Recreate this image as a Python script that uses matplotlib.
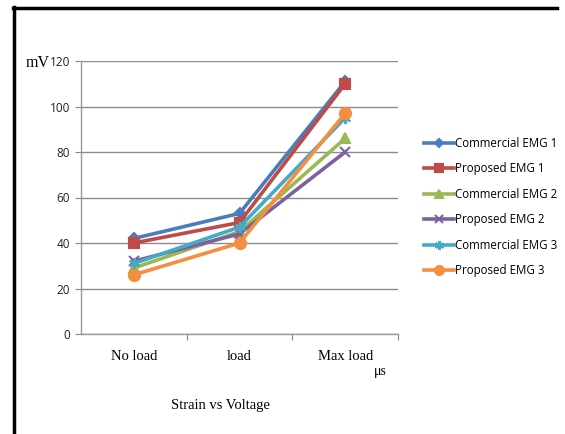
import matplotlib.pyplot as plt
from matplotlib.lines import Line2D

categories = ['No load', 'load', 'Max load']
series_names = ['Commercial EMG 1', 'Proposed EMG 1', 'Commercial EMG 2',
                'Proposed EMG 2', 'Commercial EMG 3', 'Proposed EMG 3']
commercial_1 = [42, 53, 111]
proposed_1 = [40, 49, 110]
commercial_2 = [29, 45, 86]
proposed_2 = [32, 44, 80]
commercial_3 = [31, 47, 95]
proposed_3 = [26, 40, 97]
y_ticks = [0, 20, 40, 60, 80, 100, 120]

series = [commercial_1, proposed_1, commercial_2, proposed_2, commercial_3, proposed_3]
colors = ['#4A7EBB', '#BE4B48', '#98B954', '#7D60A0', '#46AAC5', '#F38F3F']
markers = ['D', 's', '^', 'x', (6, 2, 0), 'o']
msizes = [5, 7, 7, 7, 8, 8]

fig = plt.figure(figsize=(5.65, 4.34), dpi=100)
ax = fig.add_axes([81 / 565, 1 - 334 / 434, 317 / 565, 273 / 434])

x = list(range(len(categories)))
for vals, name, c, m, ms in zip(series, series_names, colors, markers, msizes):
    ax.plot(x, vals, color=c, lw=2.6, marker=m, markersize=ms,
            markeredgecolor=c, markeredgewidth=1.5, label=name, zorder=3)

ax.set_xlim(-0.5, 2.5)
ax.set_ylim(0, 120)
ax.set_yticks(y_ticks)
ax.set_yticklabels([str(v) for v in y_ticks], fontsize=8.5, family='Open Sans', color='#222222')
ax.set_xticks([0.5, 1.5, 2.5])
ax.set_xticklabels([])
ax.tick_params(axis='y', length=4, color='#888888', pad=4)
ax.tick_params(axis='x', length=4, color='#888888')
ax.grid(axis='y', color='#8c8c8c', lw=1)
ax.set_axisbelow(True)
for s in ['top', 'right']:
    ax.spines[s].set_visible(False)
for s in ['left', 'bottom']:
    ax.spines[s].set_color('#999999')
    ax.spines[s].set_linewidth(1)

for xi, lab in zip(x, categories):
    ax.text(xi, -10, lab, ha='center', va='center', fontsize=10.5,
            family='Liberation Serif', transform=ax.transData)

fig.text(380 / 565, 1 - 372 / 434, 'μs', fontsize=10, family='Liberation Serif',
         ha='center', va='center')
fig.text(220 / 565, 1 - 406 / 434, 'Strain vs Voltage', fontsize=10.5,
         family='Liberation Serif', ha='center', va='center')
fig.text(38 / 565, 1 - 63 / 434, 'mV', fontsize=11.5, family='Liberation Serif',
         ha='center', va='center')

ax.legend(loc='center left', bbox_to_anchor=(418 / 565, 1 - 207 / 434),
          bbox_transform=fig.transFigure, frameon=False,
          prop={'family': 'Open Sans', 'size': 8.3}, handlelength=2.6,
          handletextpad=0.1, labelspacing=1.08, borderpad=0, markerscale=0.8)

# frame
fig.add_artist(Line2D([13.5 / 565, 13.5 / 565], [0, 1 - 7 / 434], color='black',
                      lw=2.5, transform=fig.transFigure))
fig.add_artist(Line2D([12.5 / 565, 557 / 565], [1 - 7.5 / 434, 1 - 7.5 / 434],
                      color='black', lw=2.5, transform=fig.transFigure))

fig.savefig('out.png', dpi=100)
